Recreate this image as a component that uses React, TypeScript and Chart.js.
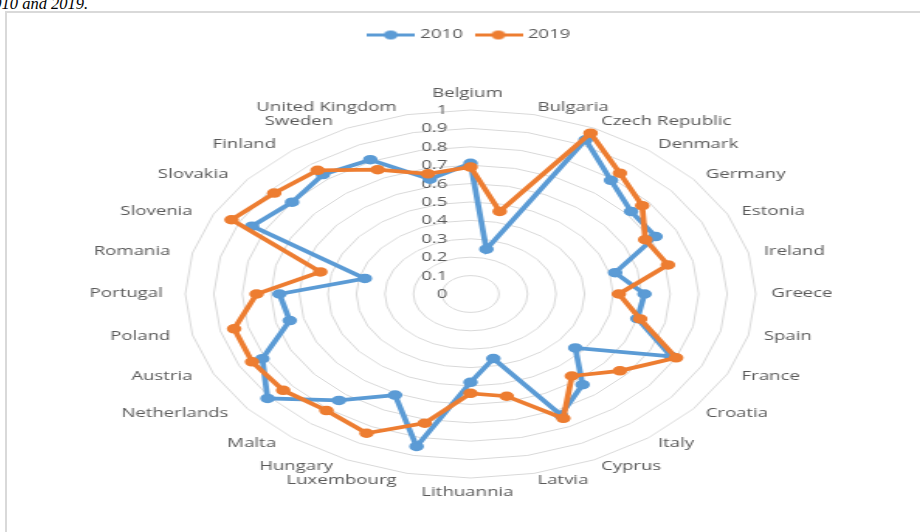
import React, { useEffect, useRef } from "react";
import { Chart, registerables } from "chart.js";

Chart.register(...registerables);

const countries = [
  "Belgium", "Bulgaria", "Czech Republic", "Denmark", "Germany", "Estonia", "Ireland",
  "Greece", "Spain", "France", "Croatia", "Italy", "Cyprus", "Latvia", "Lithuannia",
  "Luxembourg", "Hungary", "Malta", "Netherlands", "Austria", "Poland", "Portugal",
  "Romania", "Slovenia", "Slovakia", "Finland", "Sweden", "United Kingdom",
];

const values2010 = [
  0.71, 0.25, 0.93, 0.79, 0.72, 0.72, 0.52,
  0.61, 0.60, 0.78, 0.47, 0.63, 0.73, 0.36, 0.48,
  0.85, 0.61, 0.74, 0.91, 0.81, 0.65, 0.67,
  0.38, 0.85, 0.80, 0.83, 0.81, 0.64,
];

const values2019 = [
  0.69, 0.46, 0.97, 0.84, 0.77, 0.68, 0.71,
  0.52, 0.61, 0.80, 0.67, 0.57, 0.75, 0.57, 0.54,
  0.72, 0.84, 0.81, 0.84, 0.85, 0.85, 0.75,
  0.54, 0.93, 0.88, 0.86, 0.75, 0.67,
];

const tickLabels = ["0", "0.1", "0.2", "0.3", "0.4", "0.5", "0.6", "0.7", "0.8", "0.9", "1"];
const seriesNames = ["2010", "2019"];
const seriesColors = ["#5B9BD5", "#ED7D31"];

const STRETCH = 1.55;
const CW = 598;
const CH = 530;
const FONT = "'Open Sans', 'DejaVu Sans', sans-serif";
const TEXT_COLOR = "#595959";

function makeSwatch(color: string): HTMLCanvasElement {
  const c = document.createElement("canvas");
  c.width = 31;
  c.height = 11;
  const ctx = c.getContext("2d")!;
  ctx.strokeStyle = color;
  ctx.lineWidth = 3;
  ctx.beginPath();
  ctx.moveTo(0, 5.5);
  ctx.lineTo(31, 5.5);
  ctx.stroke();
  ctx.fillStyle = color;
  ctx.beginPath();
  ctx.arc(15.5, 5.5, 4.5, 0, Math.PI * 2);
  ctx.fill();
  return c;
}

const labelPlugin = {
  id: "excelRadarLabels",
  beforeDatasetsDraw(chart: any) {
    const scale = chart.scales.r;
    const ctx = chart.ctx as CanvasRenderingContext2D;
    ctx.save();
    ctx.font = `12px ${FONT}`;
    ctx.fillStyle = TEXT_COLOR;
    // value ticks, right-aligned left of the vertical axis
    ctx.textAlign = "right";
    ctx.textBaseline = "middle";
    tickLabels.forEach((t) => {
      const d = scale.getDistanceFromCenterForValue(parseFloat(t));
      ctx.fillText(t, scale.xCenter - 15, scale.yCenter - d + 0.5);
    });
    // category labels
    const n = countries.length;
    countries.forEach((name, i) => {
      const theta = (Math.PI * 2 * i) / n;
      const s = Math.sin(theta);
      const c = Math.cos(theta);
      const p = scale.getPointPosition(i, scale.drawingArea + 10);
      let x = p.x;
      let y = p.y + 3 * c;
      if (Math.abs(s) < 0.01) {
        ctx.textAlign = "center";
        x -= 2;
        y = c > 0 ? p.y - 6 : p.y + 5;
      } else if (s > 0) {
        ctx.textAlign = "left";
      } else {
        ctx.textAlign = "right";
        x -= 4.5;
      }
      ctx.fillText(name, x, y);
    });
    ctx.restore();
  },
};

export default function App() {
  const ref = useRef<HTMLCanvasElement | null>(null);

  useEffect(() => {
    if (!ref.current) return;
    const swatches = seriesColors.map(makeSwatch);
    const chart = new Chart(ref.current, {
      type: "radar",
      data: {
        labels: countries,
        datasets: [
          {
            label: seriesNames[0],
            data: values2010,
            borderColor: seriesColors[0],
            backgroundColor: seriesColors[0],
            pointBackgroundColor: seriesColors[0],
            pointBorderColor: seriesColors[0],
            borderWidth: 3.75,
            pointRadius: 4,
            pointBorderWidth: 1.5,
            fill: false,
            order: 1,
          },
          {
            label: seriesNames[1],
            data: values2019,
            borderColor: seriesColors[1],
            backgroundColor: seriesColors[1],
            pointBackgroundColor: seriesColors[1],
            pointBorderColor: seriesColors[1],
            borderWidth: 3.75,
            pointRadius: 4,
            pointBorderWidth: 1.5,
            fill: false,
            order: 0,
          },
        ],
      },
      options: {
        responsive: false,
        animation: false,
        devicePixelRatio: 1,
        layout: { padding: { top: 6, bottom: 6, left: 115, right: 115 } },
        elements: { line: { tension: 0 } },
        scales: {
          r: {
            min: 0,
            max: 1,
            ticks: { display: false, stepSize: 0.1 },
            grid: { color: "#d9d9d9", lineWidth: 1 },
            angleLines: { display: false },
            pointLabels: { display: false },
          },
        },
        plugins: {
          tooltip: { enabled: false },
          legend: {
            display: true,
            position: "top",
            labels: {
              color: TEXT_COLOR,
              font: { family: FONT, size: 12 },
              usePointStyle: true,
              pointStyleWidth: 26,
              padding: 10,
              sort: (a: any, b: any) => a.datasetIndex - b.datasetIndex,
              generateLabels: (ch: any) => {
                const items = Chart.defaults.plugins.legend.labels.generateLabels(ch);
                return items.map((it: any) => ({
                  ...it,
                  pointStyle: swatches[it.datasetIndex],
                  fontColor: TEXT_COLOR,
                }));
              },
            },
          },
        },
      },
      plugins: [labelPlugin],
    } as any);
    return () => chart.destroy();
  }, []);

  return (
    <div
      style={{
        position: "absolute",
        left: 0,
        top: 0,
        width: 920,
        height: 532,
        overflow: "hidden",
        background: "#ffffff",
      }}
    >
      <div
        style={{
          position: "absolute",
          left: -15,
          top: -5.5,
          fontFamily: "'Liberation Serif', 'Times New Roman', serif",
          fontStyle: "italic",
          fontSize: 16.5,
          lineHeight: "18px",
          whiteSpace: "nowrap",
          color: "#000",
        }}
      >
        2010 and 2019.
      </div>
      <div
        style={{
          position: "absolute",
          left: 5,
          top: 11,
          width: 1000,
          height: 600,
          border: "2px solid #d9d9d9",
          boxSizing: "content-box",
          background: "#ffffff",
        }}
      >
        <canvas
          ref={ref}
          width={CW}
          height={CH}
          style={{ width: `${CW * STRETCH}px`, height: `${CH}px`, display: "block" }}
        />
      </div>
    </div>
  );
}
